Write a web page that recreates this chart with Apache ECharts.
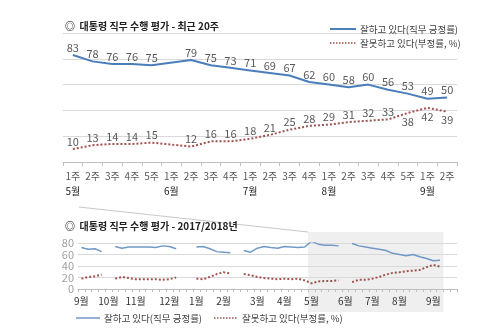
<!DOCTYPE html>
<html><head><meta charset="utf-8">
<script src="https://cdn.jsdelivr.net/npm/echarts@6/dist/echarts.min.js"></script>
<style>html,body{margin:0;padding:0;background:#fff}#c{width:500px;height:333px}</style>
</head><body><div id="c"></div>
<script>
// ---- data ----
const NAME_POS = '잘하고 있다(직무 긍정률)';
const NAME_NEG = '잘못하고 있다(부정률, %)';
const topWeeks = ['1주','2주','3주','4주','5주','1주','2주','3주','4주','1주','2주','3주','4주','1주','2주','3주','4주','5주','1주','2주'];
const topMonths = ['5월','','','','','6월','','','','7월','','','','8월','','','','','9월',''];
const topPositive = [83,78,76,76,75,null,79,75,73,71,69,67,62,60,58,60,56,53,49,50];
const topNegative = [10,13,14,14,15,null,12,16,16,18,21,25,28,29,31,32,33,38,42,39];
const topYTicks = [0,20,40,60,80,100];

const bottomMonths = ['9월','10월','11월','12월','1월','2월','3월','4월','5월','6월','7월','8월','9월'];
const bottomWeeksPerMonth = [4,4,5,4,4,5,4,4,5,4,4,5,4];
const bottomPositive = [
  72,69,70,65, null,
  74,71,73,73,73,73,72,75,74,70, null,null,
  73,74,70,65,64,63, null,
  67,64,71,74,72,71,74,73,72,73,83,78,76,76,75, null,
  79,75,73,71,69,67,62,60,58,60,56,53,49,50, null,null];
const bottomNegative = [
  18,21,22,25, null,
  18,21,19,17,17,17,17,16,17,20, null,null,
  18,17,21,26,29,27, null,
  26,24,21,19,18,17,18,17,18,15,10,13,14,14,15, null,
  12,16,16,18,21,25,28,29,31,32,33,38,42,39, null,null];
const bottomYTicks = [0,20,40,60,80];

// ---- build ----
const F = '"Noto Sans CJK KR", "Noto Sans", sans-serif';
const bottomCats = [], bottomLabel = [];
bottomMonths.forEach((m, mi) => {
  for (let w = 1; w <= bottomWeeksPerMonth[mi]; w++) {
    bottomCats.push(m + ' ' + w + '주 #' + bottomCats.length);
    bottomLabel.push(w === 1 ? m : '');
  }
});
const BLUE = '#4a7ebb', RED = '#a0524f', BLUE2 = '#7099c8';
const negData = topNegative.map((v, i) => {
  if (v == null) return v;
  const p = topPositive[i];
  return (p != null && p - v < 20) ? {value: v, label: {position: 'bottom', distance: 3}} : v;
});
const lbl = {show: true, position: 'top', distance: 2, fontSize: 11, color: '#595959', fontFamily: F};

const chart = echarts.init(document.getElementById('c'), null, {renderer: 'canvas'});
chart.setOption({
  animation: false,
  backgroundColor: '#fff',
  textStyle: {fontFamily: F},
  title: [
    {text: '◎  대통령 직무 수행 평가 - 최근 20주', left: 60, top: 16,
     textStyle: {fontSize: 10, fontWeight: 'bold', color: '#222', fontFamily: F}},
    {text: '◎  대통령 직무 수행 평가 - 2017/2018년', left: 60, top: 216,
     textStyle: {fontSize: 10, fontWeight: 'bold', color: '#222', fontFamily: F}}
  ],
  grid: [
    {left: 63, right: 43, top: 33, bottom: 171},
    {left: 78, right: 43, top: 243, bottom: 44}
  ],
  xAxis: [
    {type: 'category', gridIndex: 0, data: topWeeks, boundaryGap: true,
     axisLine: {lineStyle: {color: '#bfbfbf'}},
     axisTick: {show: true, length: 4, lineStyle: {color: '#bfbfbf'}},
     axisLabel: {interval: 0, margin: 6, fontSize: 10, color: '#595959', fontFamily: F,
       formatter: (v, i) => topMonths[i] ? '{w|' + v + '}\n{m|' + topMonths[i] + '}' : '{w|' + v + '}',
       rich: {w: {fontSize: 10, color: '#595959', lineHeight: 16, fontFamily: F},
              m: {fontSize: 10, color: '#222', lineHeight: 15, fontFamily: F}}}},
    {type: 'category', gridIndex: 1, data: bottomCats, boundaryGap: true,
     axisLine: {lineStyle: {color: '#bfbfbf'}},
     axisTick: {show: true, interval: 0, length: 3, lineStyle: {color: '#bfbfbf'}},
     axisLabel: {interval: (i) => bottomLabel[i] !== '', margin: 7, fontSize: 10, color: '#333', fontFamily: F,
       formatter: (v, i) => bottomLabel[i]}}
  ],
  yAxis: [
    {type: 'value', gridIndex: 0, min: topYTicks[0], max: topYTicks[topYTicks.length - 1], interval: 20,
     axisLabel: {show: false}, axisLine: {show: false}, axisTick: {show: false},
     splitLine: {lineStyle: {color: '#d9d9d9'}}},
    {type: 'value', gridIndex: 1, min: bottomYTicks[0], max: bottomYTicks[bottomYTicks.length - 1], interval: 20,
     axisLabel: {fontSize: 11, color: '#a0a0a0', margin: 4, fontFamily: F},
     axisLine: {show: false}, axisTick: {show: false},
     splitLine: {lineStyle: {color: '#d9d9d9'}}}
  ],
  series: [
    {name: NAME_POS, type: 'line', xAxisIndex: 0, yAxisIndex: 0, data: topPositive, connectNulls: true,
     symbol: 'circle', symbolSize: 0, showSymbol: true, lineStyle: {color: BLUE, width: 2}, itemStyle: {color: BLUE},
     label: lbl, z: 3},
    {name: NAME_NEG, type: 'line', xAxisIndex: 0, yAxisIndex: 0, data: negData, connectNulls: true,
     symbol: 'circle', symbolSize: 0, showSymbol: true, lineStyle: {color: RED, width: 2, type: 'dotted'}, itemStyle: {color: RED},
     label: lbl, z: 3},
    {name: NAME_POS, type: 'line', xAxisIndex: 1, yAxisIndex: 1, data: bottomPositive, connectNulls: false,
     symbol: 'none', lineStyle: {color: BLUE2, width: 1.5}, itemStyle: {color: BLUE2}, z: 3},
    {name: NAME_NEG, type: 'line', xAxisIndex: 1, yAxisIndex: 1, data: bottomNegative, connectNulls: false,
     symbol: 'none', lineStyle: {color: RED, width: 2, type: 'dotted'}, itemStyle: {color: RED}, z: 3}
  ]
});

// highlight box for the last 20 weeks + connector line, and legends
const iFirst = bottomPositive.length - 2 - topWeeks.length;
const iLast = iFirst + topWeeks.length - 1;
const c0 = chart.convertToPixel({xAxisIndex: 1}, iFirst);
const c1 = chart.convertToPixel({xAxisIndex: 1}, iFirst + 1);
const cL = chart.convertToPixel({xAxisIndex: 1}, iLast);
const step = c1 - c0;
const bx0 = c0 - step / 2, bx1 = cL + step / 2;
const t0 = chart.convertToPixel({xAxisIndex: 0}, 0);

function legendItem(x, y, w, color, dotted, text, width) {
  return [
    {type: 'line', silent: true, shape: {x1: x, y1: y, x2: x + w, y2: y},
     style: {stroke: color, lineWidth: width, lineDash: dotted ? [1.5, 1.5] : null}},
    {type: 'text', silent: true, x: x + w + 4, y: y,
     style: {text: text, fill: '#404040', font: '9.5px ' + F, verticalAlign: 'middle', textAlign: 'left'}}
  ];
}
chart.setOption({
  graphic: [
    {type: 'rect', z: -10, silent: true, shape: {x: bx0, y: 232, width: bx1 - bx0, height: 80},
     style: {fill: '#efefef'}},
    {type: 'line', z: -9, silent: true, shape: {x1: t0 + 6, y1: 207, x2: bx0, y2: 232},
     style: {stroke: '#c8c8c8', lineWidth: 1}},
    ...legendItem(330, 29, 26, BLUE, false, NAME_POS, 2),
    ...legendItem(330, 43, 26, RED, true, NAME_NEG, 1.5),
    ...legendItem(76, 318, 24, BLUE2, false, NAME_POS, 1.5),
    ...legendItem(214, 318, 24, RED, true, NAME_NEG, 1.5)
  ]
});
</script></body></html>
